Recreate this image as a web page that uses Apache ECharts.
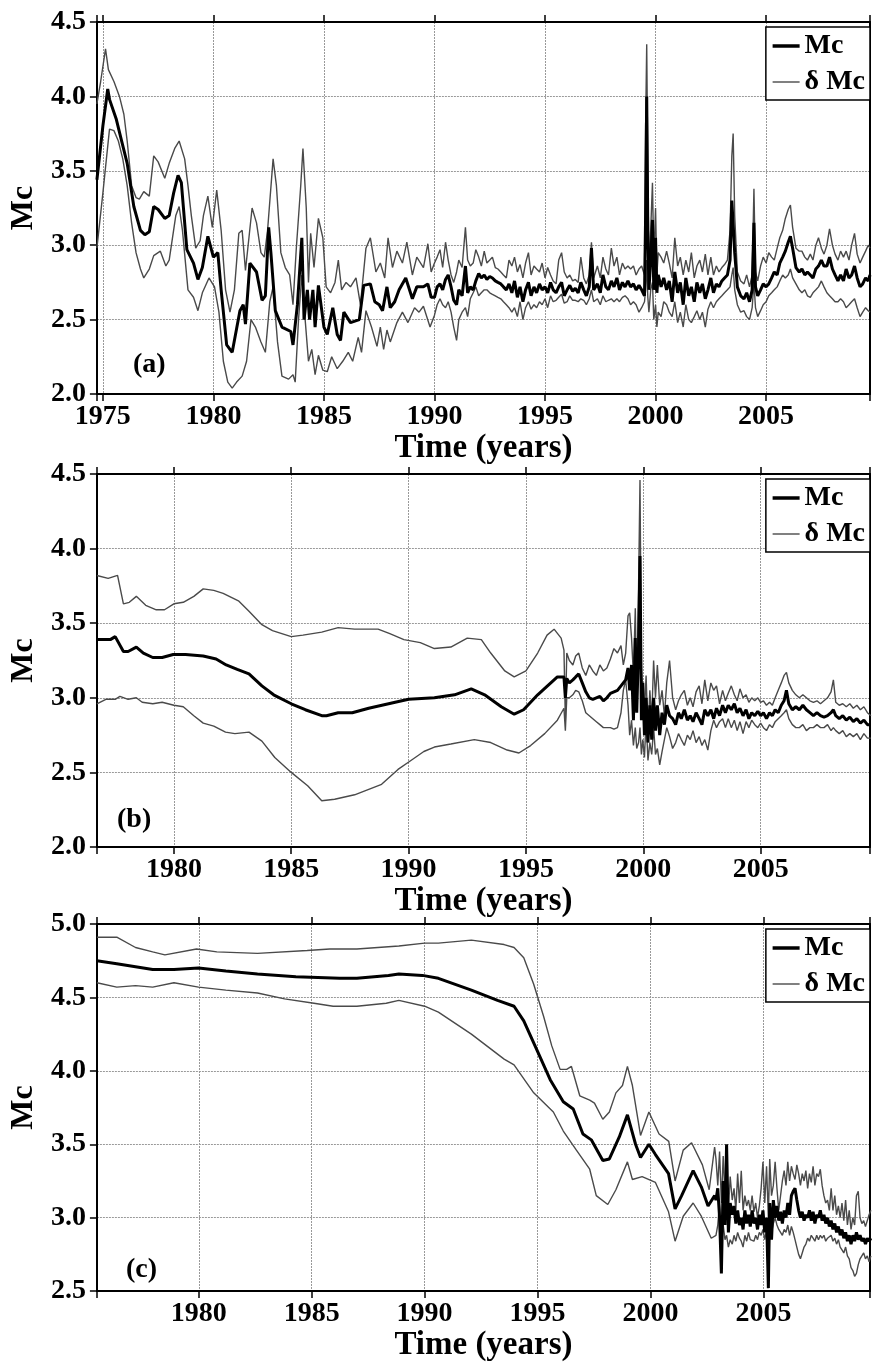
<!DOCTYPE html>
<html>
<head>
<meta charset="utf-8">
<script src="https://cdn.jsdelivr.net/npm/echarts@6/dist/echarts.min.js"></script>
<style>html,body{margin:0;padding:0;background:#fff;}#c{width:873px;height:1363px;}</style>
</head>
<body>
<div id="c"></div>
<script>
// ---------- Panel (a) ----------
const aMc = [[1974.73,3.44],[1975.0,3.8],[1975.22,4.05],[1975.3,3.98],[1975.6,3.85],[1975.85,3.7],[1976.1,3.55],[1976.4,3.26],[1976.7,3.10],[1976.9,3.07],[1977.1,3.09],[1977.3,3.26],[1977.5,3.24],[1977.8,3.18],[1978.0,3.20],[1978.2,3.35],[1978.4,3.47],[1978.55,3.42],[1978.8,2.97],[1979.1,2.88],[1979.3,2.77],[1979.5,2.85],[1979.75,3.06],[1980.0,2.92],[1980.2,2.95],[1980.35,2.70],[1980.6,2.33],[1980.85,2.28],[1981.2,2.56],[1981.35,2.60],[1981.45,2.47],[1981.65,2.88],[1981.95,2.82],[1982.2,2.63],[1982.35,2.66],[1982.5,3.12],[1982.6,2.95],[1982.8,2.56],[1983.1,2.45],[1983.5,2.42],[1983.6,2.33],[1983.8,2.60],[1984.0,3.05],[1984.1,2.5],[1984.25,2.7],[1984.35,2.5],[1984.5,2.7],[1984.6,2.45],[1984.75,2.73],[1985.0,2.45],[1985.15,2.40],[1985.4,2.58],[1985.6,2.40],[1985.75,2.36],[1985.9,2.55],[1986.2,2.48],[1986.6,2.50],[1986.8,2.73],[1987.1,2.74],[1987.3,2.62],[1987.5,2.60],[1987.65,2.56],[1987.85,2.72],[1988.0,2.58],[1988.2,2.62],[1988.4,2.70],[1988.7,2.78],[1989.0,2.64],[1989.2,2.72],[1989.5,2.72],[1989.7,2.74],[1989.85,2.65],
[1990.00,2.65],[1990.12,2.72],[1990.25,2.74],[1990.37,2.70],[1990.50,2.77],[1990.62,2.80],[1990.75,2.72],[1990.87,2.63],[1991.00,2.60],[1991.10,2.70],[1991.25,2.66],[1991.40,2.86],[1991.50,2.68],[1991.62,2.72],[1991.75,2.70],[1991.87,2.76],[1992.00,2.81],[1992.12,2.78],[1992.25,2.80],[1992.37,2.77],[1992.50,2.79],[1992.62,2.78],[1992.75,2.76],[1992.87,2.75],[1993.00,2.74],[1993.12,2.72],[1993.25,2.70],[1993.37,2.74],[1993.50,2.68],[1993.62,2.76],[1993.75,2.65],[1993.87,2.72],[1994.00,2.62],[1994.12,2.70],[1994.25,2.75],[1994.37,2.66],[1994.50,2.72],[1994.62,2.68],[1994.75,2.74],[1994.87,2.70],[1995.00,2.72],[1995.12,2.68],[1995.25,2.75],[1995.37,2.70],[1995.50,2.68],[1995.62,2.72],[1995.75,2.75],[1995.87,2.66],[1996.00,2.70],[1996.12,2.73],[1996.25,2.69],[1996.37,2.71],[1996.50,2.68],[1996.62,2.75],[1996.75,2.70],[1996.87,2.66],[1997.00,2.72],[1997.10,2.98],[1997.20,2.70],[1997.37,2.74],[1997.50,2.68],[1997.62,2.80],[1997.75,2.72],[1997.87,2.70],[1998.00,2.76],[1998.12,2.72],[1998.25,2.78],[1998.37,2.70],[1998.50,2.75],[1998.62,2.72],[1998.75,2.76],[1998.87,2.72],[1999.00,2.74],[1999.12,2.70],[1999.25,2.73],[1999.37,2.70],[1999.50,2.66],[1999.55,3.20],[1999.60,4.00],[1999.65,3.10],[1999.70,2.70],[1999.78,2.90],[1999.86,3.17],[1999.92,2.70],[2000.00,3.05],[2000.06,2.68],[2000.12,2.80],[2000.25,2.72],[2000.37,2.78],[2000.50,2.70],[2000.62,2.76],[2000.75,2.62],[2000.87,2.82],[2001.00,2.68],[2001.12,2.75],[2001.25,2.60],[2001.37,2.78],[2001.50,2.66],[2001.62,2.72],[2001.75,2.62],[2001.87,2.75],[2002.00,2.68],[2002.12,2.74],[2002.25,2.64],[2002.37,2.70],[2002.50,2.78],[2002.62,2.68],[2002.75,2.74],[2002.87,2.72],[2003.00,2.76],[2003.12,2.78],[2003.25,2.80],[2003.37,2.90],[2003.45,3.30],[2003.51,3.30],[2003.58,2.95],[2003.70,2.72],[2003.85,2.66],[2004.00,2.64],[2004.12,2.68],[2004.25,2.62],[2004.37,2.70],[2004.45,3.15],[2004.52,2.72],[2004.62,2.66],[2004.75,2.70],[2004.87,2.74],[2005.00,2.72],[2005.12,2.74],[2005.25,2.78],[2005.37,2.82],[2005.50,2.80],[2005.62,2.88],[2005.75,2.92],[2005.87,2.96],[2006.00,3.02],[2006.10,3.06],[2006.20,2.98],[2006.35,2.85],[2006.50,2.82],[2006.62,2.84],[2006.75,2.80],[2006.87,2.82],[2007.00,2.80],[2007.12,2.78],[2007.25,2.84],[2007.37,2.86],[2007.50,2.90],[2007.62,2.86],[2007.75,2.86],[2007.87,2.92],[2008.00,2.84],[2008.12,2.80],[2008.25,2.76],[2008.37,2.80],[2008.50,2.76],[2008.62,2.84],[2008.75,2.78],[2008.87,2.80],[2009.00,2.86],[2009.12,2.78],[2009.25,2.72],[2009.37,2.74],[2009.50,2.78],[2009.62,2.76],[2009.70,2.80]];

const aUp = [[1974.73,3.95],[1974.9,4.1],[1975.12,4.32],[1975.25,4.18],[1975.5,4.10],[1975.75,4.00],[1975.95,3.88],[1976.1,3.70],[1976.3,3.40],[1976.5,3.32],[1976.65,3.31],[1976.85,3.36],[1977.1,3.33],[1977.3,3.60],[1977.5,3.56],[1977.8,3.45],[1978.0,3.55],[1978.25,3.65],[1978.45,3.70],[1978.7,3.58],[1978.85,3.40],[1979.0,3.20],[1979.2,2.98],[1979.4,3.03],[1979.55,3.20],[1979.75,3.33],[1979.95,3.12],[1980.15,3.37],[1980.35,3.10],[1980.55,2.70],[1980.75,2.55],[1980.95,2.70],[1981.15,3.08],[1981.3,3.10],[1981.45,2.83],[1981.75,3.25],[1981.95,3.15],[1982.15,2.95],[1982.3,2.92],[1982.45,3.10],[1982.7,3.58],[1982.85,3.40],[1983.05,2.95],[1983.25,2.85],[1983.45,2.80],[1983.6,2.60],[1983.75,2.98],[1983.95,3.40],[1984.05,3.65],[1984.2,3.25],[1984.3,2.75],[1984.4,3.08],[1984.55,2.85],[1984.75,3.18],[1984.95,3.05],[1985.1,2.72],[1985.3,2.68],[1985.5,2.75],[1985.65,2.90],[1985.8,2.70],[1986.0,2.75],[1986.2,2.72],[1986.45,2.78],[1986.65,2.60],[1986.9,2.98],[1987.1,3.05],[1987.35,2.82],[1987.55,2.88],[1987.75,2.78],[1987.9,3.05],[1988.1,2.85],[1988.3,2.96],[1988.55,2.88],[1988.75,3.02],[1989.0,2.80],[1989.2,2.92],[1989.5,2.85],[1989.7,3.01],[1989.85,2.82],
[1990.00,2.88],[1990.12,2.92],[1990.25,2.97],[1990.37,2.85],[1990.50,3.02],[1990.62,2.90],[1990.75,2.80],[1990.87,2.75],[1991.00,2.82],[1991.10,2.90],[1991.25,2.85],[1991.40,3.12],[1991.50,2.90],[1991.62,2.86],[1991.75,2.88],[1991.87,2.97],[1992.00,2.92],[1992.12,2.86],[1992.25,2.96],[1992.37,2.88],[1992.50,2.90],[1992.62,2.92],[1992.75,2.85],[1992.87,2.84],[1993.00,2.82],[1993.12,2.80],[1993.25,2.78],[1993.37,2.90],[1993.50,2.86],[1993.62,2.92],[1993.75,2.82],[1993.87,2.87],[1994.00,2.78],[1994.12,2.88],[1994.25,2.95],[1994.37,2.80],[1994.50,2.86],[1994.62,2.84],[1994.75,2.82],[1994.87,2.88],[1995.00,2.78],[1995.12,2.85],[1995.25,2.80],[1995.37,2.76],[1995.50,2.74],[1995.62,2.90],[1995.75,2.95],[1995.87,2.82],[1996.00,2.78],[1996.12,2.80],[1996.25,2.76],[1996.37,2.77],[1996.50,2.75],[1996.62,2.92],[1996.75,2.78],[1996.87,2.74],[1997.00,2.80],[1997.10,3.02],[1997.20,2.78],[1997.37,2.86],[1997.50,2.78],[1997.62,2.92],[1997.75,2.84],[1997.87,2.80],[1998.00,2.98],[1998.12,2.86],[1998.25,2.92],[1998.37,2.80],[1998.50,2.88],[1998.62,2.84],[1998.75,2.86],[1998.87,2.84],[1999.00,2.86],[1999.12,2.80],[1999.25,2.84],[1999.37,2.86],[1999.50,2.80],[1999.55,3.80],[1999.60,4.35],[1999.65,3.50],[1999.70,2.85],[1999.78,3.10],[1999.86,3.42],[1999.92,2.90],[2000.00,3.25],[2000.06,2.80],[2000.12,2.95],[2000.25,2.92],[2000.37,2.88],[2000.50,2.96],[2000.62,2.88],[2000.75,2.78],[2000.87,3.05],[2001.00,2.86],[2001.12,2.92],[2001.25,2.80],[2001.37,2.90],[2001.50,2.82],[2001.62,2.95],[2001.75,2.78],[2001.87,2.86],[2002.00,2.90],[2002.12,2.82],[2002.25,2.94],[2002.37,2.80],[2002.50,2.92],[2002.62,2.80],[2002.75,2.86],[2002.87,2.82],[2003.00,2.85],[2003.12,2.87],[2003.25,2.90],[2003.37,3.10],[2003.45,3.60],[2003.51,3.75],[2003.58,3.20],[2003.70,2.82],[2003.85,2.76],[2004.00,2.74],[2004.12,2.80],[2004.25,2.72],[2004.37,2.80],[2004.45,3.38],[2004.52,2.82],[2004.62,2.76],[2004.75,2.86],[2004.87,2.92],[2005.00,2.88],[2005.12,2.95],[2005.25,2.92],[2005.37,2.90],[2005.50,2.98],[2005.62,3.05],[2005.75,3.10],[2005.87,3.18],[2006.00,3.24],[2006.10,3.27],[2006.20,3.12],[2006.35,2.98],[2006.50,2.96],[2006.62,2.96],[2006.75,2.92],[2006.87,2.90],[2007.00,2.94],[2007.12,2.90],[2007.25,3.00],[2007.37,3.05],[2007.50,2.98],[2007.62,2.94],[2007.75,3.00],[2007.87,3.11],[2008.00,3.00],[2008.12,2.94],[2008.25,2.90],[2008.37,2.96],[2008.50,2.92],[2008.62,2.96],[2008.75,2.90],[2008.87,3.00],[2009.00,3.08],[2009.12,2.94],[2009.25,2.88],[2009.37,2.92],[2009.50,2.96],[2009.62,3.00],[2009.70,2.98]];

const aLo = [[1974.73,2.98],[1975.0,3.35],[1975.3,3.78],[1975.5,3.77],[1975.7,3.70],[1975.9,3.58],[1976.1,3.40],[1976.3,3.15],[1976.5,2.95],[1976.7,2.84],[1976.85,2.78],[1977.1,2.84],[1977.3,2.93],[1977.6,2.96],[1977.85,2.86],[1978.0,2.90],[1978.3,3.20],[1978.45,3.26],[1978.6,3.10],[1978.85,2.70],[1979.1,2.65],[1979.3,2.56],[1979.5,2.68],[1979.8,2.78],[1980.05,2.72],[1980.25,2.55],[1980.45,2.22],[1980.65,2.08],[1980.85,2.04],[1981.05,2.08],[1981.3,2.12],[1981.5,2.22],[1981.7,2.50],[1981.9,2.45],[1982.15,2.35],[1982.35,2.28],[1982.55,2.62],[1982.7,2.72],[1982.9,2.35],[1983.1,2.12],[1983.4,2.10],[1983.6,2.13],[1983.7,2.08],[1983.85,2.50],[1984.0,2.80],[1984.15,2.50],[1984.3,2.22],[1984.45,2.30],[1984.6,2.13],[1984.75,2.26],[1984.95,2.16],[1985.15,2.15],[1985.35,2.25],[1985.6,2.17],[1985.85,2.22],[1986.1,2.28],[1986.3,2.22],[1986.55,2.38],[1986.7,2.28],[1986.9,2.56],[1987.15,2.45],[1987.4,2.32],[1987.55,2.45],[1987.7,2.30],[1987.85,2.43],[1988.0,2.35],[1988.3,2.48],[1988.55,2.55],[1988.8,2.48],[1989.1,2.58],[1989.3,2.55],[1989.5,2.59],[1989.8,2.45],
[1990.00,2.53],[1990.12,2.60],[1990.25,2.64],[1990.37,2.60],[1990.50,2.58],[1990.62,2.62],[1990.75,2.55],[1990.87,2.45],[1991.00,2.36],[1991.10,2.50],[1991.25,2.55],[1991.40,2.58],[1991.50,2.52],[1991.62,2.64],[1991.75,2.68],[1991.87,2.72],[1992.00,2.66],[1992.12,2.68],[1992.25,2.70],[1992.37,2.70],[1992.50,2.68],[1992.62,2.67],[1992.75,2.66],[1992.87,2.65],[1993.00,2.64],[1993.12,2.62],[1993.25,2.60],[1993.37,2.58],[1993.50,2.55],[1993.62,2.58],[1993.75,2.52],[1993.87,2.62],[1994.00,2.50],[1994.12,2.58],[1994.25,2.62],[1994.37,2.57],[1994.50,2.60],[1994.62,2.58],[1994.75,2.62],[1994.87,2.60],[1995.00,2.64],[1995.12,2.58],[1995.25,2.66],[1995.37,2.62],[1995.50,2.63],[1995.62,2.65],[1995.75,2.67],[1995.87,2.61],[1996.00,2.62],[1996.12,2.66],[1996.25,2.63],[1996.37,2.63],[1996.50,2.62],[1996.62,2.64],[1996.75,2.63],[1996.87,2.60],[1997.00,2.64],[1997.10,2.70],[1997.20,2.62],[1997.37,2.64],[1997.50,2.60],[1997.62,2.66],[1997.75,2.62],[1997.87,2.63],[1998.00,2.64],[1998.12,2.62],[1998.25,2.64],[1998.37,2.62],[1998.50,2.65],[1998.62,2.66],[1998.75,2.64],[1998.87,2.60],[1999.00,2.62],[1999.12,2.60],[1999.25,2.55],[1999.37,2.58],[1999.50,2.62],[1999.55,2.70],[1999.60,2.90],[1999.65,2.65],[1999.70,2.55],[1999.78,2.70],[1999.86,2.75],[1999.92,2.50],[2000.00,2.60],[2000.06,2.45],[2000.12,2.55],[2000.25,2.52],[2000.37,2.62],[2000.50,2.60],[2000.62,2.55],[2000.75,2.52],[2000.87,2.62],[2001.00,2.48],[2001.12,2.55],[2001.25,2.45],[2001.37,2.60],[2001.50,2.50],[2001.62,2.48],[2001.75,2.52],[2001.87,2.56],[2002.00,2.50],[2002.12,2.55],[2002.25,2.45],[2002.37,2.57],[2002.50,2.62],[2002.62,2.58],[2002.75,2.62],[2002.87,2.64],[2003.00,2.66],[2003.12,2.68],[2003.25,2.70],[2003.37,2.72],[2003.45,2.80],[2003.51,2.85],[2003.58,2.70],[2003.70,2.60],[2003.85,2.55],[2004.00,2.56],[2004.12,2.52],[2004.25,2.50],[2004.37,2.58],[2004.45,2.75],[2004.52,2.58],[2004.62,2.52],[2004.75,2.56],[2004.87,2.60],[2005.00,2.62],[2005.12,2.66],[2005.25,2.68],[2005.37,2.70],[2005.50,2.72],[2005.62,2.76],[2005.75,2.80],[2005.87,2.78],[2006.00,2.80],[2006.10,2.84],[2006.20,2.78],[2006.35,2.74],[2006.50,2.70],[2006.62,2.68],[2006.75,2.70],[2006.87,2.66],[2007.00,2.65],[2007.12,2.68],[2007.25,2.70],[2007.37,2.72],[2007.50,2.76],[2007.62,2.72],[2007.75,2.68],[2007.87,2.66],[2008.00,2.64],[2008.12,2.62],[2008.25,2.62],[2008.37,2.64],[2008.50,2.62],[2008.62,2.58],[2008.75,2.60],[2008.87,2.62],[2009.00,2.64],[2009.12,2.58],[2009.25,2.52],[2009.37,2.55],[2009.50,2.58],[2009.62,2.56],[2009.70,2.55]];

// ---------- Panel (b) ----------
const bMc = [[1976.72,3.39],[1977.29,3.39],[1977.5,3.41],[1977.85,3.31],[1978.05,3.31],[1978.4,3.34],[1978.7,3.30],[1979.1,3.27],[1979.5,3.27],[1979.97,3.29],[1980.5,3.29],[1981.25,3.28],[1981.8,3.26],[1982.23,3.22],[1982.7,3.19],[1983.2,3.16],[1983.75,3.08],[1984.25,3.02],[1985.0,2.96],[1985.6,2.92],[1986.3,2.88],[1986.5,2.88],[1987.0,2.90],[1987.6,2.90],[1988.3,2.93],[1989.43,2.97],[1990.0,2.99],[1991.1,3.00],[1991.96,3.02],[1992.67,3.06],[1993.24,3.02],[1993.95,2.94],[1994.5,2.89],[1994.9,2.92],[1995.5,3.02],[1996.34,3.14],
[1996.62,3.14],[1996.68,3.00],[1996.74,3.13],[1996.85,3.10],[1997.0,3.12],[1997.12,3.14],[1997.25,3.16],[1997.4,3.10],[1997.55,3.04],[1997.7,3.00],[1997.85,2.99],[1998.0,3.00],[1998.15,3.01],[1998.3,2.98],[1998.45,3.00],[1998.6,3.03],[1998.75,3.04],[1998.9,3.05],[1999.05,3.08],[1999.15,3.10],[1999.25,3.12],[1999.35,3.20],[1999.42,3.05],[1999.5,3.22],[1999.58,2.85],[1999.66,3.40],[1999.72,2.90],[1999.80,3.35],[1999.86,3.95],[1999.92,2.85],[1999.98,3.10],[2000.05,2.75],[2000.12,3.00],[2000.20,2.70],[2000.28,2.95],[2000.36,2.72],[2000.44,3.00],[2000.52,2.78],[2000.60,2.95],[2000.70,2.75],[2000.80,2.90],[2000.90,2.82],[2001.00,2.95],[2001.12,2.88],[2001.25,2.86],[2001.38,2.82],[2001.50,2.90],[2001.62,2.86],[2001.75,2.92],[2001.88,2.85],[2002.00,2.88],[2002.12,2.84],[2002.25,2.90],[2002.38,2.86],[2002.50,2.82],[2002.62,2.92],[2002.75,2.88],[2002.88,2.92],[2003.00,2.86],[2003.12,2.93],[2003.25,2.88],[2003.38,2.95],[2003.50,2.90],[2003.62,2.95],[2003.75,2.92],[2003.88,2.96],[2004.00,2.90],[2004.12,2.93],[2004.25,2.88],[2004.38,2.92],[2004.50,2.86],[2004.62,2.90],[2004.75,2.88],[2004.88,2.91],[2005.00,2.88],[2005.12,2.90],[2005.25,2.86],[2005.38,2.90],[2005.50,2.88],[2005.62,2.92],[2005.75,2.90],[2005.88,2.95],[2006.00,2.98],[2006.10,3.05],[2006.20,2.96],[2006.35,2.92],[2006.50,2.94],[2006.65,2.92],[2006.80,2.95],[2006.95,2.92],[2007.10,2.90],[2007.25,2.88],[2007.40,2.90],[2007.55,2.88],[2007.70,2.87],[2007.85,2.88],[2008.00,2.90],[2008.10,2.92],[2008.20,2.88],[2008.35,2.86],[2008.50,2.88],[2008.65,2.85],[2008.80,2.87],[2008.95,2.84],[2009.10,2.86],[2009.25,2.83],[2009.40,2.85],[2009.55,2.82],[2009.70,2.82]];

const bUp = [[1976.72,3.82],[1977.2,3.80],[1977.6,3.82],[1977.85,3.63],[1978.1,3.64],[1978.4,3.68],[1978.8,3.62],[1979.25,3.59],[1979.6,3.59],[1980.0,3.63],[1980.4,3.64],[1980.85,3.68],[1981.25,3.73],[1981.7,3.72],[1982.1,3.70],[1982.75,3.65],[1983.2,3.58],[1983.75,3.49],[1984.2,3.45],[1985.0,3.41],[1985.5,3.42],[1986.3,3.44],[1987.0,3.47],[1987.7,3.46],[1988.7,3.46],[1989.2,3.43],[1989.8,3.39],[1990.5,3.37],[1991.1,3.33],[1991.8,3.34],[1992.5,3.40],[1993.1,3.39],[1993.5,3.30],[1994.1,3.18],[1994.5,3.14],[1995.0,3.18],[1995.5,3.30],[1995.9,3.42],[1996.2,3.46],[1996.5,3.40],
[1996.62,3.32],[1996.68,2.85],[1996.74,3.30],[1996.85,3.25],[1997.0,3.22],[1997.12,3.28],[1997.25,3.30],[1997.4,3.20],[1997.55,3.15],[1997.7,3.22],[1997.85,3.18],[1998.0,3.15],[1998.15,3.22],[1998.3,3.18],[1998.45,3.20],[1998.6,3.26],[1998.75,3.33],[1998.9,3.30],[1999.05,3.35],[1999.15,3.22],[1999.25,3.30],[1999.35,3.55],[1999.42,3.57],[1999.5,3.40],[1999.58,3.15],[1999.66,3.60],[1999.72,3.00],[1999.80,3.75],[1999.86,4.46],[1999.92,3.20],[1999.98,3.05],[2000.05,2.90],[2000.12,3.15],[2000.20,2.75],[2000.28,3.05],[2000.36,2.85],[2000.44,3.25],[2000.52,3.00],[2000.60,3.22],[2000.70,2.95],[2000.80,3.05],[2000.90,2.88],[2001.00,3.10],[2001.12,3.25],[2001.25,3.00],[2001.38,2.92],[2001.50,2.98],[2001.62,3.02],[2001.75,3.05],[2001.88,2.95],[2002.00,3.00],[2002.12,2.94],[2002.25,3.04],[2002.38,3.08],[2002.50,2.96],[2002.62,3.12],[2002.75,2.98],[2002.88,3.10],[2003.00,3.05],[2003.12,3.08],[2003.25,2.96],[2003.38,3.05],[2003.50,2.98],[2003.62,3.03],[2003.75,3.08],[2003.88,3.02],[2004.00,2.98],[2004.12,3.06],[2004.25,3.00],[2004.38,3.02],[2004.50,2.97],[2004.62,3.00],[2004.75,2.98],[2004.88,3.00],[2005.00,2.97],[2005.12,2.98],[2005.25,2.95],[2005.38,2.97],[2005.50,2.95],[2005.62,3.00],[2005.75,3.05],[2005.88,3.10],[2006.00,3.15],[2006.10,3.17],[2006.20,3.10],[2006.35,3.05],[2006.50,3.02],[2006.65,3.00],[2006.80,3.02],[2006.95,3.00],[2007.10,2.98],[2007.25,2.97],[2007.40,2.98],[2007.55,2.96],[2007.70,2.98],[2007.85,3.00],[2008.00,3.04],[2008.10,3.12],[2008.20,2.97],[2008.35,2.95],[2008.50,2.96],[2008.65,2.94],[2008.80,2.96],[2008.95,2.93],[2009.10,2.95],[2009.25,2.92],[2009.40,2.94],[2009.55,2.90],[2009.70,2.88]];

const bLo = [[1976.72,2.96],[1977.1,2.99],[1977.5,2.99],[1977.7,3.01],[1978.05,2.99],[1978.4,3.00],[1978.65,2.97],[1979.1,2.96],[1979.5,2.97],[1980.0,2.95],[1980.4,2.94],[1980.85,2.88],[1981.25,2.83],[1981.7,2.81],[1982.2,2.77],[1982.6,2.76],[1983.2,2.77],[1983.75,2.71],[1984.3,2.60],[1985.0,2.50],[1985.7,2.41],[1986.3,2.31],[1986.85,2.32],[1987.7,2.35],[1988.85,2.42],[1989.55,2.52],[1990.1,2.58],[1990.65,2.64],[1991.1,2.67],[1991.8,2.69],[1992.8,2.72],[1993.5,2.70],[1994.2,2.65],[1994.7,2.63],[1995.2,2.68],[1995.8,2.76],[1996.34,2.85],
[1996.62,2.93],[1996.68,2.78],[1996.74,3.00],[1996.85,3.00],[1997.0,3.02],[1997.12,3.05],[1997.25,3.04],[1997.4,2.98],[1997.55,2.90],[1997.7,2.88],[1997.85,2.86],[1998.0,2.84],[1998.15,2.82],[1998.3,2.80],[1998.45,2.80],[1998.6,2.80],[1998.75,2.79],[1998.9,2.80],[1999.05,2.90],[1999.15,3.05],[1999.25,3.12],[1999.35,2.95],[1999.42,2.75],[1999.5,2.85],[1999.58,2.68],[1999.66,2.80],[1999.72,2.66],[1999.80,2.70],[1999.86,2.80],[1999.92,2.62],[1999.98,2.72],[2000.05,2.60],[2000.12,2.85],[2000.20,2.58],[2000.28,2.70],[2000.36,2.62],[2000.44,2.80],[2000.52,2.62],[2000.60,2.66],[2000.70,2.55],[2000.80,2.64],[2000.90,2.72],[2001.00,2.80],[2001.12,2.74],[2001.25,2.66],[2001.38,2.70],[2001.50,2.76],[2001.62,2.72],[2001.75,2.68],[2001.88,2.75],[2002.00,2.72],[2002.12,2.78],[2002.25,2.70],[2002.38,2.74],[2002.50,2.68],[2002.62,2.72],[2002.75,2.65],[2002.88,2.78],[2003.00,2.85],[2003.12,2.80],[2003.25,2.84],[2003.38,2.86],[2003.50,2.80],[2003.62,2.86],[2003.75,2.80],[2003.88,2.85],[2004.00,2.78],[2004.12,2.84],[2004.25,2.76],[2004.38,2.84],[2004.50,2.80],[2004.62,2.85],[2004.75,2.82],[2004.88,2.80],[2005.00,2.83],[2005.12,2.80],[2005.25,2.78],[2005.38,2.82],[2005.50,2.80],[2005.62,2.84],[2005.75,2.86],[2005.88,2.88],[2006.00,2.90],[2006.10,2.92],[2006.20,2.86],[2006.35,2.82],[2006.50,2.80],[2006.65,2.80],[2006.80,2.82],[2006.95,2.78],[2007.10,2.80],[2007.25,2.80],[2007.40,2.82],[2007.55,2.80],[2007.70,2.80],[2007.85,2.82],[2008.00,2.78],[2008.10,2.80],[2008.20,2.78],[2008.35,2.76],[2008.50,2.78],[2008.65,2.74],[2008.80,2.76],[2008.95,2.74],[2009.10,2.76],[2009.25,2.72],[2009.40,2.76],[2009.55,2.73],[2009.70,2.73]];

// ---------- Panel (c) ----------
const cMc = [[1975.49,4.75],[1976.37,4.73],[1977.96,4.69],[1978.9,4.69],[1979.99,4.70],[1981.2,4.68],[1982.6,4.66],[1984.3,4.64],[1986.24,4.63],[1987.0,4.63],[1988.4,4.65],[1988.86,4.66],[1989.9,4.65],[1990.61,4.63],[1992.07,4.55],[1993.23,4.48],[1993.96,4.44],[1994.39,4.34],[1994.98,4.14],[1995.56,3.94],[1996.14,3.79],[1996.58,3.74],[1997.01,3.57],[1997.38,3.53],[1997.89,3.39],[1998.18,3.40],[1998.62,3.55],[1998.98,3.70],[1999.34,3.50],[1999.56,3.41],[1999.93,3.50],[2000.22,3.43],[2000.8,3.30],[2001.09,3.06],[2001.38,3.15],[2001.89,3.32],[2002.25,3.21],[2002.55,3.08],[2002.84,3.15],
[2002.90,3.12],[2002.98,3.20],[2003.06,3.00],[2003.14,2.62],[2003.22,3.25],[2003.30,2.95],[2003.37,3.50],[2003.45,2.90],[2003.53,3.10],[2003.62,3.02],[2003.70,3.08],[2003.78,2.96],[2003.86,3.05],[2003.94,2.95],[2004.02,3.00],[2004.10,2.92],[2004.18,3.05],[2004.26,2.96],[2004.34,3.02],[2004.42,2.94],[2004.50,3.05],[2004.58,2.96],[2004.66,3.00],[2004.74,2.92],[2004.82,3.02],[2004.90,2.95],[2004.98,3.05],[2005.06,2.90],[2005.14,3.00],[2005.22,2.52],[2005.28,3.10],[2005.36,2.85],[2005.44,3.12],[2005.52,3.00],[2005.60,3.08],[2005.68,2.98],[2005.76,3.04],[2005.84,2.96],[2005.92,3.05],[2006.00,3.00],[2006.08,3.10],[2006.16,3.02],[2006.24,3.15],[2006.32,3.18],[2006.40,3.20],[2006.48,3.12],[2006.56,3.05],[2006.64,3.00],[2006.72,3.04],[2006.80,2.98],[2006.88,3.02],[2006.96,3.00],[2007.04,3.05],[2007.12,2.98],[2007.20,3.04],[2007.28,2.96],[2007.36,3.02],[2007.44,3.00],[2007.52,3.05],[2007.60,2.98],[2007.68,3.02],[2007.76,2.96],[2007.84,3.00],[2007.92,2.94],[2008.00,2.98],[2008.08,2.92],[2008.16,2.96],[2008.24,2.90],[2008.32,2.94],[2008.40,2.88],[2008.48,2.92],[2008.56,2.86],[2008.64,2.90],[2008.72,2.84],[2008.80,2.88],[2008.88,2.82],[2008.96,2.88],[2009.04,2.84],[2009.12,2.90],[2009.20,2.85],[2009.28,2.88],[2009.36,2.84],[2009.44,2.86],[2009.52,2.82],[2009.60,2.86],[2009.68,2.84],[2009.76,2.86]];

const cUp = [[1975.49,4.91],[1976.37,4.91],[1977.2,4.84],[1977.96,4.81],[1978.5,4.79],[1979.9,4.83],[1980.8,4.81],[1982.6,4.80],[1984.8,4.82],[1985.8,4.83],[1987.0,4.83],[1988.86,4.85],[1990.0,4.87],[1990.61,4.87],[1992.07,4.89],[1993.52,4.86],[1993.96,4.84],[1994.39,4.77],[1994.83,4.59],[1995.27,4.37],[1995.63,4.17],[1996.0,4.01],[1996.29,4.01],[1996.5,4.03],[1996.87,3.83],[1997.31,3.80],[1997.52,3.78],[1997.89,3.67],[1998.18,3.72],[1998.47,3.85],[1998.76,3.90],[1998.98,4.03],[1999.2,3.90],[1999.56,3.56],[1999.93,3.72],[2000.38,3.57],[2000.81,3.52],[2001.09,3.25],[2001.45,3.46],[2001.82,3.51],[2002.3,3.36],[2002.6,3.19],[2002.84,3.48],
[2002.90,3.40],[2002.98,3.22],[2003.06,3.45],[2003.14,3.10],[2003.22,3.42],[2003.30,3.15],[2003.37,3.35],[2003.45,3.05],[2003.53,3.28],[2003.62,3.12],[2003.70,3.20],[2003.78,3.05],[2003.86,3.30],[2003.94,3.10],[2004.02,3.32],[2004.10,3.05],[2004.18,3.15],[2004.26,3.08],[2004.34,3.12],[2004.42,3.05],[2004.50,3.15],[2004.58,3.04],[2004.66,3.10],[2004.74,3.00],[2004.82,3.08],[2004.90,3.20],[2004.98,3.38],[2005.06,3.10],[2005.14,3.35],[2005.22,3.00],[2005.28,3.40],[2005.36,3.15],[2005.44,3.22],[2005.52,3.38],[2005.60,3.20],[2005.68,3.05],[2005.76,3.15],[2005.84,3.25],[2005.92,3.32],[2006.00,3.22],[2006.08,3.38],[2006.16,3.25],[2006.24,3.35],[2006.32,3.30],[2006.40,3.26],[2006.48,3.36],[2006.56,3.30],[2006.64,3.22],[2006.72,3.30],[2006.80,3.25],[2006.88,3.32],[2006.96,3.20],[2007.04,3.30],[2007.12,3.24],[2007.20,3.35],[2007.28,3.22],[2007.36,3.30],[2007.44,3.28],[2007.52,3.33],[2007.60,3.22],[2007.68,3.15],[2007.76,3.10],[2007.84,3.12],[2007.92,3.05],[2008.00,3.20],[2008.08,3.05],[2008.16,3.15],[2008.24,3.02],[2008.32,3.08],[2008.40,3.00],[2008.48,3.10],[2008.56,2.98],[2008.64,3.12],[2008.72,2.95],[2008.80,3.05],[2008.88,2.92],[2008.96,3.00],[2009.04,2.95],[2009.12,3.15],[2009.20,3.18],[2009.28,3.00],[2009.36,2.96],[2009.44,2.98],[2009.52,2.94],[2009.60,2.98],[2009.68,3.02],[2009.76,3.05]];

const cLo = [[1975.49,4.60],[1976.37,4.57],[1977.2,4.58],[1977.96,4.57],[1978.9,4.60],[1979.99,4.57],[1981.2,4.55],[1982.6,4.53],[1983.8,4.49],[1985.1,4.46],[1985.95,4.44],[1987.0,4.44],[1988.3,4.46],[1988.86,4.48],[1990.0,4.44],[1990.61,4.40],[1992.07,4.25],[1993.52,4.08],[1993.96,4.04],[1994.83,3.85],[1995.7,3.72],[1996.14,3.59],[1996.72,3.46],[1997.31,3.33],[1997.6,3.15],[1998.11,3.09],[1998.47,3.19],[1998.98,3.38],[1999.2,3.26],[1999.63,3.28],[2000.22,3.24],[2000.8,3.04],[2001.09,2.84],[2001.45,3.01],[2001.89,3.10],[2002.25,3.01],[2002.69,2.86],
[2002.90,2.88],[2002.98,2.95],[2003.06,3.10],[2003.14,2.82],[2003.22,2.95],[2003.30,2.85],[2003.37,2.88],[2003.45,2.80],[2003.53,2.85],[2003.62,2.82],[2003.70,2.88],[2003.78,2.84],[2003.86,2.90],[2003.94,2.86],[2004.02,2.84],[2004.10,2.80],[2004.18,2.88],[2004.26,2.84],[2004.34,2.90],[2004.42,2.85],[2004.50,2.86],[2004.58,2.84],[2004.66,2.88],[2004.74,2.85],[2004.82,2.90],[2004.90,2.88],[2004.98,2.92],[2005.06,2.85],[2005.14,2.92],[2005.22,2.78],[2005.28,2.95],[2005.36,2.90],[2005.44,2.96],[2005.52,3.00],[2005.60,2.95],[2005.68,2.92],[2005.76,2.90],[2005.84,2.88],[2005.92,2.92],[2006.00,2.90],[2006.08,2.95],[2006.16,2.88],[2006.24,2.94],[2006.32,2.90],[2006.40,2.85],[2006.48,2.80],[2006.56,2.75],[2006.64,2.72],[2006.72,2.76],[2006.80,2.80],[2006.88,2.82],[2006.96,2.86],[2007.04,2.84],[2007.12,2.88],[2007.20,2.86],[2007.28,2.84],[2007.36,2.88],[2007.44,2.85],[2007.52,2.88],[2007.60,2.86],[2007.68,2.88],[2007.76,2.84],[2007.84,2.86],[2007.92,2.85],[2008.00,2.88],[2008.08,2.84],[2008.16,2.86],[2008.24,2.82],[2008.32,2.85],[2008.40,2.80],[2008.48,2.78],[2008.56,2.76],[2008.64,2.80],[2008.72,2.74],[2008.80,2.72],[2008.88,2.66],[2008.96,2.64],[2009.04,2.60],[2009.12,2.62],[2009.20,2.68],[2009.28,2.72],[2009.36,2.74],[2009.44,2.76],[2009.52,2.72],[2009.60,2.74],[2009.68,2.70],[2009.76,2.74]];

const panelLabels = ['(a)', '(b)', '(c)'];
const xRanges = [[1974.73, 2009.7], [1976.72, 2009.66], [1975.49, 2009.72]];
const yRanges = [[2.0, 4.5], [2.0, 4.5], [2.5, 5.0]];
const xTitle = 'Time (years)';
const yTitle = 'Mc';
const legendNames = ['Mc', 'δ Mc'];

// ---------- layout ----------
const FONT = '"Liberation Serif", "Times New Roman", serif';
const MC_STYLE = {color: '#000', width: 3};
const DMC_STYLE = {color: '#4a4a4a', width: 1.4};
const grids = [
  {left: 96, top: 22, right: 1, height: 372},
  {left: 93, top: 474, right: 1, height: 373},
  {left: 87, top: 924, right: 1, height: 376}
];
const labelPos = [[133, 351], [117, 806], [126, 1256]];
const legendTop = [27, 479, 929];

const data = [[aMc, aUp, aLo], [bMc, bUp, bLo], [cMc, cUp, cLo]];

const option = {
  backgroundColor: '#fff',
  animation: false,
  grid: grids.map(g => Object.assign({show: false}, g)),
  xAxis: [], yAxis: [], series: [], legend: [], graphic: []
};

const axisLineStyle = {color: '#000', width: 2};
grids.forEach((g, i) => {
  const [xmin, xmax] = xRanges[i];
  const [ymin, ymax] = yRanges[i];
  option.xAxis.push({
    type: 'value', gridIndex: i, min: xmin, max: xmax, minInterval: 5, maxInterval: 5,
    position: 'bottom',
    name: xTitle, nameLocation: 'middle', nameGap: 36,
    nameTextStyle: {fontFamily: FONT, fontWeight: 'bold', fontSize: 33, color: '#000'},
    axisLine: {show: true, onZero: false, lineStyle: axisLineStyle},
    axisTick: {show: true, length: 7, lineStyle: {color: '#000', width: 1.5}},
    axisLabel: {fontFamily: FONT, fontWeight: 'bold', fontSize: 28, color: '#000', margin: 9,
      showMinLabel: true, showMaxLabel: true,
      formatter: v => (Math.abs(v - Math.round(v / 5) * 5) < 1e-6 ? String(Math.round(v)) : '')},
    splitLine: {show: true, lineStyle: {color: '#999', type: [2, 1], width: 1}}
  });
  option.xAxis.push({
    type: 'value', gridIndex: i, min: xmin, max: xmax, minInterval: 5, maxInterval: 5,
    position: 'top',
    axisLine: {show: true, onZero: false, lineStyle: axisLineStyle},
    axisTick: {show: true, length: 7, lineStyle: {color: '#000', width: 1.5}},
    axisLabel: {show: false}, splitLine: {show: false}
  });
  option.yAxis.push({
    type: 'value', gridIndex: i, min: ymin, max: ymax, interval: 0.5, position: 'left',
    name: yTitle, nameLocation: 'middle', nameGap: 56,
    nameTextStyle: {fontFamily: FONT, fontWeight: 'bold', fontSize: 32, color: '#000'},
    axisLine: {show: true, onZero: false, lineStyle: axisLineStyle},
    axisTick: {show: true, length: 7, lineStyle: {color: '#000', width: 1.5}},
    axisLabel: {fontFamily: FONT, fontWeight: 'bold', fontSize: 28, color: '#000', margin: 11,
      formatter: v => v.toFixed(1)},
    splitLine: {show: true, lineStyle: {color: '#999', type: [2, 1], width: 1}}
  });
  option.yAxis.push({
    type: 'value', gridIndex: i, min: ymin, max: ymax, interval: 0.5, position: 'right',
    axisLine: {show: true, onZero: false, lineStyle: axisLineStyle},
    axisTick: {show: false}, axisLabel: {show: false}, splitLine: {show: false}
  });
  const [mc, up, lo] = data[i];
  const thin = (d) => ({
    name: 'δ Mc', type: 'line', xAxisIndex: i * 2, yAxisIndex: i * 2, data: d,
    showSymbol: false, symbol: 'none', silent: true,
    lineStyle: DMC_STYLE, itemStyle: {color: DMC_STYLE.color}
  });
  option.series.push(thin(up));
  option.series.push(thin(lo));
  option.series.push({
    name: 'Mc', type: 'line', xAxisIndex: i * 2, yAxisIndex: i * 2, data: mc,
    showSymbol: false, symbol: 'none', silent: true,
    lineStyle: MC_STYLE, itemStyle: {color: MC_STYLE.color}
  });
  option.legend.push({
    data: [
      {name: legendNames[0], lineStyle: {color: MC_STYLE.color, width: 3.5}},
      {name: legendNames[1], lineStyle: {color: DMC_STYLE.color, width: 1.4}}
    ],
    orient: 'vertical', right: 3, top: legendTop[i],
    itemWidth: 27, itemHeight: 14, itemGap: 6,
    itemStyle: {opacity: 0},
    padding: [4, 5, 3, 5], borderColor: '#000', borderWidth: 1.5, backgroundColor: '#fff',
    selectedMode: false, z: 10,
    textStyle: {fontFamily: FONT, fontWeight: 'bold', fontSize: 28, color: '#000', lineHeight: 30}
  });
  option.graphic.push({
    type: 'text', left: labelPos[i][0], top: labelPos[i][1], z: 100,
    style: {text: panelLabels[i], font: 'bold 28px ' + FONT, fill: '#000'}
  });
});

const chart = echarts.init(document.getElementById('c'), null, {renderer: 'canvas'});
chart.setOption(option);
</script>
</body>
</html>
